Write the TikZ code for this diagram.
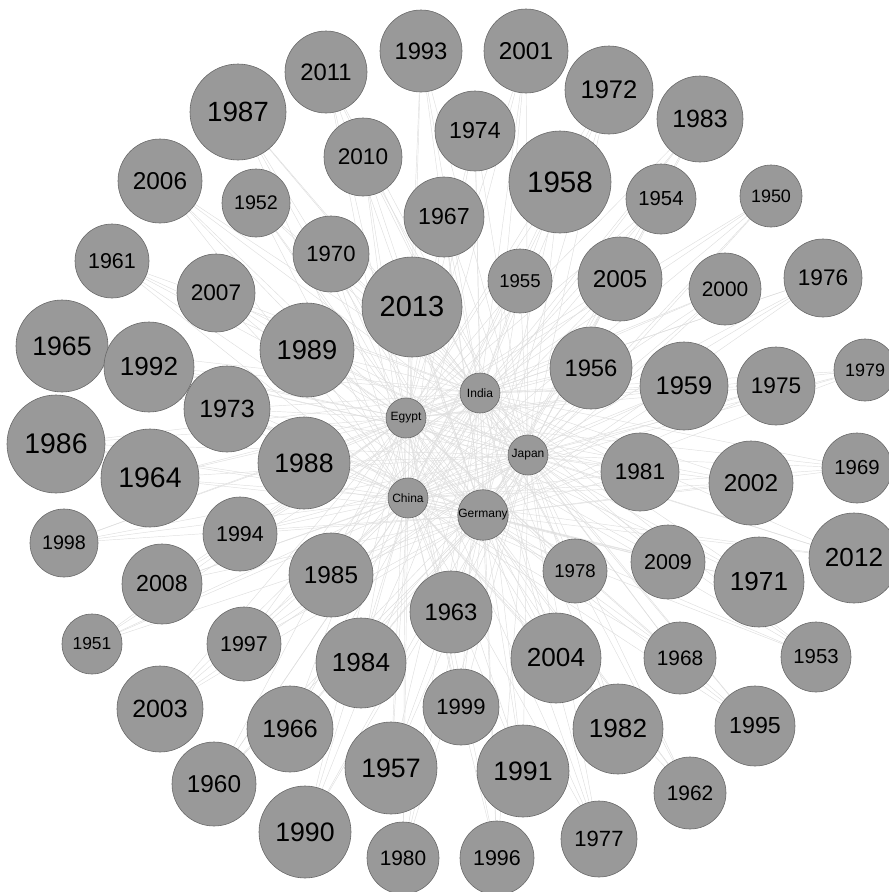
\documentclass[tikz,border=0pt]{standalone}
\usepackage{fontspec}
\setmainfont{Liberation Sans}
\usetikzlibrary{backgrounds}
\definecolor{yearfill}{RGB}{153,153,153}
\definecolor{yearline}{RGB}{105,105,105}
\definecolor{linkgray}{RGB}{222,222,222}

\begin{document}
\begin{tikzpicture}[
    x=1pt, y=-1pt,
    bubble/.style={circle, draw=yearline, fill=yearfill, line width=0.6pt, inner sep=0pt, text=black},
    link/.style={draw=linkgray, line width=0.45pt}
]
\useasboundingbox (0,0) rectangle (889,892);
\clip (0,0) rectangle (889,892);

\foreach \n/\x/\y/\r in {
    1993/421/51/41, 2001/526/51/42, 2011/326/72/41, 1972/609/90/44,
    1987/238/112/48, 1983/700/119/43, 1974/475/131/40, 2010/363/157/39,
    1958/560/182/51, 2006/160/181/42, 1952/256/203/34, 1954/661/199/35,
    1950/771/196/31, 1967/444/217/40, 1970/331/254/38, 1961/112/261/37,
    2007/216/293/39, 2013/412/307/50, 1955/520/281/32, 2005/620/279/42,
    2000/725/289/36, 1976/823/278/39, 1965/62/346/46, 1992/149/367/45,
    1989/307/350/47, 1956/591/368/41, 1959/684/386/44, 1975/776/386/39,
    1979/865/370/31, 1973/227/409/43, 1986/56/444/49, 1964/150/478/49,
    1988/304/463/46, 1981/640/472/39, 2002/751/483/42, 1969/857/468/35,
    1998/64/543/34, 1994/240/534/37, 1978/575/571/32, 2009/668/562/37,
    1971/759/582/45, 2012/854/558/45, 2008/162/584/40, 1985/331/575/42,
    1963/451/612/41, 1951/92/644/30, 1997/244/644/37, 1984/361/663/45,
    2004/556/658/45, 1968/680/658/36, 1953/816/657/35, 2003/160/709/43,
    1966/290/729/43, 1999/461/707/38, 1982/618/729/45, 1995/755/726/40,
    1960/214/784/42, 1957/391/768/46, 1991/523/771/46, 1962/690/793/36,
    1990/305/832/46, 1977/599/839/38, 1980/403/858/36, 1996/497/858/37}{
  \pgfmathsetmacro{\fs}{0.58*\r}
  \node[bubble, minimum size=2*\r, font=\fontsize{\fs}{\fs}\selectfont] (y\n) at (\x,\y) {\n};
}

\foreach \id/\lbl/\x/\y in {india/India/480/393, egypt/Egypt/406/418,
    japan/Japan/528/455, china/China/408/498, germany/Germany/483/515}{
  \node[bubble, minimum size=40, font=\fontsize{12}{12}\selectfont] (\id) at (\x,\y) {\lbl};
}

\begin{scope}[on background layer]
\foreach \c in {india,egypt,japan,china,germany}
  \foreach \n in {1950,...,2013}
    \draw[link] (\c) -- (y\n);
\end{scope}
\end{tikzpicture}
\end{document}
